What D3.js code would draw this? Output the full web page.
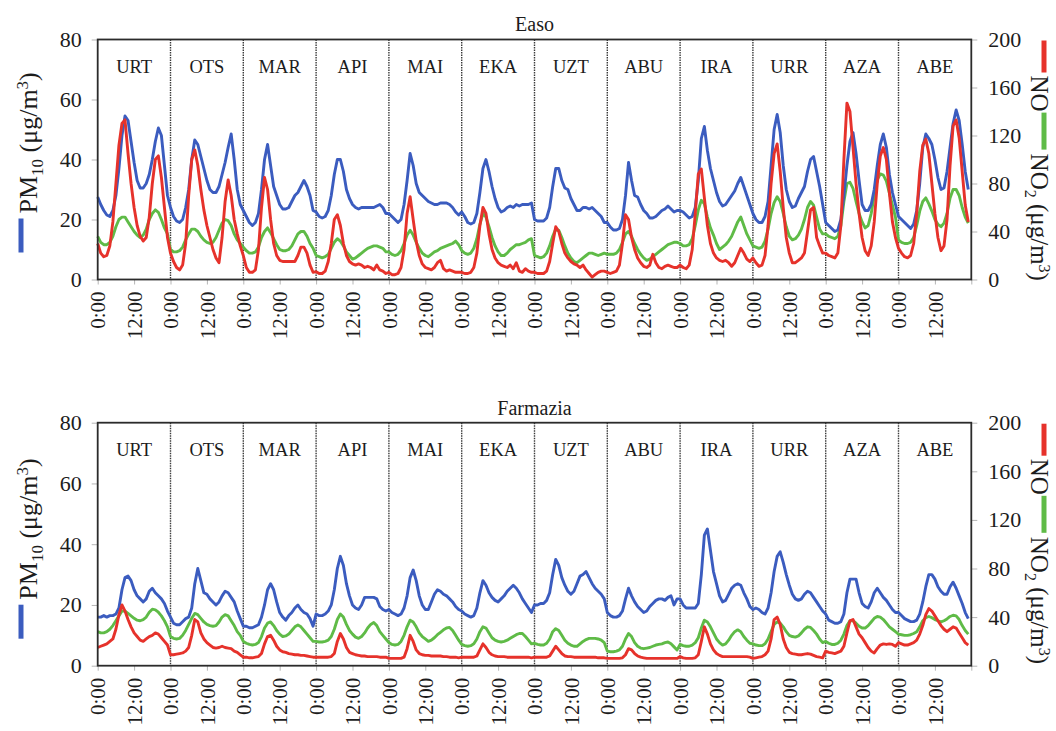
<!DOCTYPE html>
<html>
<head>
<meta charset="utf-8">
<script src="https://cdn.jsdelivr.net/npm/d3@7"></script>
<style>
  body { margin: 0; background: #fff; }
  svg { display: block; }
  text { font-family: "Liberation Serif", "Times New Roman", serif; fill: #1c1c1c; }
</style>
</head>
<body>
<svg id="chart" width="1056" height="731"></svg>
<script>
// Monthly mean daily cycles (hour 0..23) for each month, Jan..Dec (Basque month abbreviations)
const months = ["URT", "OTS", "MAR", "API", "MAI", "EKA", "UZT", "ABU", "IRA", "URR", "AZA", "ABE"];
const hourTickLabels = ["0:00", "12:00"];
const pmTicks = [0, 20, 40, 60, 80];
const noTicks = [0, 40, 80, 120, 160, 200];

// Easo station
const easoPM10 = [
  27.5, 25, 23, 21.5, 21, 23, 28, 37, 48, 54.5, 53, 46, 39, 33, 30.5, 30.5, 32, 35, 40, 46, 50.5, 48, 38, 28,
  24, 21, 19.5, 19, 20, 24, 30, 40, 46.5, 45, 41, 37, 33, 30, 29, 29, 31, 35, 39, 44, 48.5, 40, 30, 25,
  23, 21, 19, 18, 19, 22, 30, 40, 45, 38, 31, 28, 25, 23.5, 23.5, 24, 26, 28, 29, 31, 33, 31, 28, 23,
  22.5, 21, 20.5, 21, 23, 28, 35, 40, 40, 36, 30, 27, 25, 24, 23.5, 24, 24, 24, 24, 24, 24.5, 25, 24, 22,
  22, 21, 20, 19, 20, 25, 33, 42, 38, 32, 29, 28, 27, 26, 25.5, 25, 25, 25.5, 25.5, 25.5, 25, 24, 22.5, 21.5,
  22.5, 21, 19, 18.5, 19, 22, 29, 37, 40, 36, 31, 27, 24, 22.5, 23, 24, 24.5, 24, 25, 24.5, 25, 25, 25, 25.5,
  20, 19.5, 19.5, 19.5, 20.5, 24, 31, 37, 37, 33, 30.5, 30, 27, 25, 23, 23, 24, 24, 23.5, 24, 23, 22, 21, 19,
  19, 17.5, 16.5, 16.5, 17, 20, 28, 39, 33, 28, 27.5, 25, 23, 22, 20.5, 20.5, 21, 22, 23, 23.5, 24.5, 23.5, 22.5, 23,
  23, 22.5, 21.5, 20.5, 21, 24, 33, 47, 51, 43, 37, 33, 29, 26, 24.5, 25, 26.5, 28, 29.5, 32, 34, 31, 28, 25,
  22, 20, 19, 19, 21, 26, 38, 50, 55, 49, 38, 30, 26, 24, 24.5, 27, 29, 31, 36, 40, 41, 36, 31, 25,
  19, 18, 17, 16, 16.5, 20, 28, 38, 46, 49, 42, 33, 25, 23, 23, 25, 30, 38, 45, 48.5, 44, 35, 29, 25,
  21, 20, 19, 18, 17, 18.5, 23, 32, 44, 48.5, 47, 45, 40, 34, 30, 30.5, 36, 44, 52, 56.5, 53, 45, 36, 30
];
const easoNO = [
  30, 22, 19, 20, 28, 48, 80, 112, 130, 133, 105, 80, 60, 45, 36, 32, 35, 52, 80, 100, 103, 85, 60, 35,
  22, 15, 10, 8, 12, 30, 70, 100, 108, 95, 75, 58, 45, 35, 25, 18, 14, 35, 65, 83, 70, 50, 38, 28,
  20, 10, 6, 6, 8, 25, 60, 85, 75, 50, 30, 20, 16, 15, 15, 15, 15, 15, 20, 27, 27, 22, 12, 6,
  6.5, 5, 5, 7, 15, 30, 50, 54, 45, 30, 20, 15, 13, 12, 13, 12, 10, 11, 10, 8, 12, 8, 7, 5,
  6, 4, 4, 5, 10, 25, 55, 69, 50, 32, 20, 13, 10, 9, 8, 10, 14, 16, 9, 7, 8, 7, 6, 6,
  6, 5, 5, 6, 10, 22, 45, 60, 55, 38, 25, 18, 14, 12, 11, 10, 12, 9, 14, 7, 6, 9, 7, 6,
  6, 5, 5, 5, 7, 15, 30, 44, 40, 30, 22, 18, 15, 13, 12, 10, 12, 8, 5, 2, 4, 6, 7, 7,
  6, 5, 6, 7, 12, 30, 54, 50, 35, 25, 18, 14, 11, 10, 12, 21, 14, 10, 9, 11, 12, 11, 10, 10,
  12, 10, 9, 12, 25, 55, 88, 92, 68, 45, 30, 22, 18, 16, 15, 16, 14, 11, 14, 20, 26, 22, 17, 15,
  18, 14, 11, 12, 20, 45, 80, 105, 113, 90, 60, 35, 22, 14, 14, 16, 18, 22, 40, 58, 60, 35, 28, 22,
  22, 20, 19, 18, 22, 45, 100, 147, 140, 110, 80, 55, 35, 24, 20, 28, 48, 80, 103, 110, 100, 72, 48, 35,
  26, 22, 19, 18, 20, 30, 55, 90, 112, 117, 105, 80, 55, 35, 24, 28, 50, 95, 128, 133, 118, 90, 62, 48
];
const easoNO2 = [
  36, 31, 29, 29, 31, 36, 44, 50, 52, 52, 48, 44, 40, 37, 35, 37, 42, 50, 55, 58, 56, 50, 43, 38,
  25, 23, 23, 24, 27, 33, 38, 42, 42, 40, 36, 33, 31, 30, 31, 35, 41, 47, 50, 49, 45, 38, 33, 30,
  27, 24, 22, 22, 23, 27, 35, 40, 43, 39, 34, 29, 25, 24, 24, 25, 28, 33, 38, 40, 40, 36, 30, 26,
  20, 19, 18, 19, 21, 26, 31, 34, 32, 28, 23, 20, 17, 18, 20, 22, 24, 26, 27, 28, 28, 27, 26, 23,
  23, 21, 20, 21, 24, 30, 37, 41, 37, 31, 26, 22, 20, 19, 21, 23, 24, 26, 27, 28, 29, 30, 32, 29,
  24, 22, 21, 22, 26, 34, 46, 55, 52, 44, 35, 28, 23, 20, 20, 22, 25, 27, 29, 29, 30, 31, 33, 34,
  20, 19, 18, 19, 22, 28, 36, 42, 41, 35, 28, 22, 18, 15, 14, 16, 18, 20, 22, 22, 21, 20, 21, 22,
  21, 21, 21, 22, 25, 31, 38, 40, 36, 30, 25, 21, 18, 16, 17, 19, 21, 23, 25, 27, 29, 30, 31, 31,
  30, 28, 28, 29, 34, 45, 58, 66, 63, 52, 43, 37, 30, 25, 27, 29, 32, 36, 42, 48, 52, 45, 38, 33,
  28, 27, 26, 27, 32, 42, 55, 64, 69, 65, 55, 44, 36, 33, 34, 37, 42, 50, 60, 65, 62, 52, 42, 38,
  38, 36, 35, 34, 36, 45, 65, 80, 81, 76, 65, 55, 48, 43, 45, 55, 70, 83, 88, 87, 82, 72, 62, 52,
  33, 31, 30, 30, 31, 35, 45, 57, 65, 68, 63, 57, 50, 46, 44, 47, 55, 68, 75, 75, 70, 60, 52, 47
];

// Farmazia station
const farmaziaPM10 = [
  16, 16, 16.5, 16, 16.5, 16.5, 17, 19, 25, 29, 29.5, 28, 25, 23, 22, 21, 22, 24.5, 25.5, 24, 23, 22, 20.5, 18,
  16, 14, 13.5, 13.5, 14.5, 15.5, 16, 19, 27, 32, 28, 24, 23.5, 22, 21, 20, 21, 23, 24.5, 24, 22.5, 21, 18, 15.5,
  13, 13, 12.5, 12.5, 13, 13.5, 16, 20, 25, 27, 25, 21, 17.5, 16, 15, 16.5, 17.5, 19, 20, 18.5, 17.5, 17, 15.5, 13,
  17, 16.5, 16.5, 17, 18, 20, 25, 32, 36, 33, 27, 23, 20, 19, 18.5, 20, 22.5, 22.5, 22.5, 22.5, 22, 19.5, 18.5, 18,
  18.5, 17.5, 17, 16.5, 17, 19, 23, 29, 31.5, 28, 23, 20, 18.5, 18.5, 21, 23.5, 25, 24.5, 23.5, 23, 22, 21, 19.5, 18.5,
  18, 17, 16.5, 16, 16.5, 19, 24, 28, 26.5, 24, 22.5, 21.5, 21, 22, 23, 24.5, 25.5, 26.5, 25.5, 24, 22, 20.5, 19, 17.5,
  20, 20, 20.5, 20.5, 21.5, 24, 30, 35, 33, 29, 26.5, 24.5, 23.5, 24.5, 27, 29.5, 30, 31, 29, 27, 25.5, 24.5, 23.5, 22,
  17.5, 16.5, 16, 16, 16.5, 18, 22, 25.5, 23, 21, 19.5, 18.5, 17.5, 18, 19.5, 20.5, 21.5, 22, 22, 21.5, 22.5, 23, 20, 22,
  22, 20, 19, 19, 19, 19, 20.5, 30, 43, 45, 38, 31, 27, 23, 21, 21.5, 23.5, 25.5, 26.5, 27, 26.5, 24, 22, 19.5,
  18.5, 19, 18.5, 17.5, 17, 19, 24, 31, 36, 37.5, 34, 30, 26.5, 23.5, 22, 21.5, 22, 23.5, 24.5, 24, 22.5, 21, 19.5, 18,
  17, 15, 14.5, 14, 14, 14.5, 17, 24, 28.5, 28.5, 28.5, 24, 20.5, 19.5, 19, 21, 24, 25.5, 24, 22.5, 21.5, 20, 18.5, 17.5,
  17.5, 16.5, 15.5, 15, 14.5, 14.5, 15, 17, 21, 26, 30, 30, 28.5, 26, 24.5, 23.5, 23.5, 26, 27.5, 25.5, 23, 20.5, 17.5, 15.5
];
const farmaziaNO = [
  15, 16, 17, 18, 20, 22, 30, 42, 50, 45, 38, 32, 27, 24, 21, 20, 22, 24, 25, 27, 26, 23, 20, 17,
  9, 9, 9.5, 10, 10.5, 12, 15, 25, 38, 36, 27, 22, 19, 17, 15, 14.5, 15, 16, 15, 14.5, 14, 12, 11, 9,
  7, 7, 6.5, 6.5, 7, 7.5, 10, 18, 24, 25, 21, 16, 13, 11.5, 11, 10, 9.5, 9, 9, 8.5, 8.5, 8, 7.5, 7,
  7, 7, 7, 7, 7, 7.5, 10, 20, 26.5, 22, 15, 11, 10, 9, 8.5, 8, 8, 7.5, 7.5, 7.5, 7.5, 7, 7, 7,
  6, 6, 6, 6, 6, 7, 14, 25, 20, 13, 10, 9, 8.5, 8.5, 8, 8, 8, 8, 7.5, 7.5, 7, 7, 7, 6.5,
  7, 7, 7, 7, 7, 8, 13, 18, 15, 11, 9, 8, 7.5, 7.5, 7.5, 7, 7, 7, 7, 7, 7, 7, 7, 6.5,
  7, 7, 7, 7, 7, 8, 12, 16, 13, 10, 8, 7.5, 7.5, 7, 7, 7, 7, 7, 7, 7, 7, 6.5, 6.5, 6.5,
  6, 6, 6, 6, 6, 6.5, 9, 14, 13, 10, 8, 7, 6.5, 6, 6, 6, 6, 6, 6, 6, 6, 6, 6, 6,
  7.5, 6.5, 6, 6, 6, 6.5, 9, 20, 32, 26, 18, 13, 10, 8.5, 7.5, 7.5, 7.5, 7.5, 7.5, 7.5, 7.5, 7.5, 7.5, 7,
  6, 6.5, 7, 7.5, 9, 12, 22, 38, 40, 34, 22, 15, 11, 10, 9.5, 9, 9, 9.5, 10, 9.5, 8.5, 7.5, 7, 6.5,
  12, 11, 10.5, 10, 11, 12, 16, 27, 37, 38, 32, 26, 23, 19, 15, 12, 10.5, 14, 17, 18, 17.5, 18, 17.5, 16,
  19, 18, 17, 17, 18, 19, 21, 26, 33, 42, 47, 45, 41, 37, 33, 30, 28, 30, 32, 31, 27, 23, 19, 17
];
const farmaziaNO2 = [
  28, 27, 27, 28, 30, 33, 37, 41, 45, 45, 43, 41, 39, 37.5, 37, 38, 40, 44, 46.5, 46, 44, 41, 37, 32,
  24, 22.5, 22, 22.5, 25, 29, 34, 39, 43, 42, 39, 36, 34, 33, 32.5, 33, 36, 40, 42, 41, 37, 33, 28, 25,
  20, 18.5, 17.5, 17, 17.5, 19, 24, 31, 35, 36, 33, 29, 26, 24, 24.5, 26, 29, 32, 33.5, 32, 29, 26, 23, 20,
  20, 19.5, 19.5, 20, 21, 24, 30, 38, 42.5, 40, 34, 29, 26, 23.5, 22.5, 24, 27, 31, 34, 35.5, 33, 28, 25, 22,
  19, 17.5, 17, 17.5, 20, 25, 32, 37.5, 36, 32, 27, 24, 22, 20, 21, 23, 25.5, 27.5, 29.5, 31, 31.5, 29, 25, 21,
  17.5, 16.5, 16, 16.5, 18, 22, 28, 32, 31, 27, 23, 21, 20, 19.5, 20, 21, 22.5, 24, 25.5, 26.5, 26.5, 24, 21, 18,
  18.5, 17.5, 17, 17, 18.5, 22, 28, 30.5, 29, 25, 21, 18.5, 17, 16, 16, 18, 20, 21.5, 22.5, 22.5, 22.5, 22, 21, 19,
  12, 11.5, 11.5, 12, 13, 16, 22, 26.5, 24, 19, 16, 14.5, 14, 14.5, 15, 16, 17, 17.5, 18, 19, 19.5, 18, 15.5, 13,
  17.5, 16.5, 16, 16, 17, 19, 23, 31, 37.5, 36, 32, 27, 22, 19, 17, 18, 21, 25, 28, 29.5, 28, 24, 21, 18.5,
  18, 17, 16.5, 16.5, 18, 22, 28, 34, 36, 35, 32, 28, 25, 24, 23.5, 24.5, 27, 30, 32, 31.5, 29, 26, 22, 19,
  20, 18.5, 17.5, 17.5, 18.5, 21, 26, 33, 37, 37, 35, 32.5, 31, 31, 33, 36, 39, 40.5, 40, 38, 35, 32, 30, 28,
  26, 25.5, 25, 25, 25.5, 26.5, 28, 32, 37, 39.5, 40.5, 39.5, 38, 37, 36, 37, 38.5, 40.5, 41.5, 41, 38, 33, 29, 26
];

const COLORS = { pm: "#3b5cbf", no: "#e6322b", no2: "#5fbb47" };

const panels = [
  { title: "Easo", top: 39.5, bottom: 279.5, titleY: 30.5, pm: easoPM10, no: easoNO, no2: easoNO2 },
  { title: "Farmazia", top: 422.7, bottom: 665.7, titleY: 414.5, pm: farmaziaPM10, no: farmaziaNO, no2: farmaziaNO2 }
];

const svg = d3.select("#chart");
svg.append("rect").attr("width", 1056).attr("height", 731).attr("fill", "#fff");

const x = d3.scaleLinear().domain([0, 288]).range([97.7, 971.3]);
const plotLeft = x(0), plotRight = x(288);

panels.forEach(p => {
  const g = svg.append("g");
  const yL = d3.scaleLinear().domain([0, 80]).range([p.bottom, p.top]);
  const yR = d3.scaleLinear().domain([0, 200]).range([p.bottom, p.top]);

  // title
  g.append("text").attr("x", (plotLeft + plotRight) / 2).attr("y", p.titleY)
    .attr("text-anchor", "middle").attr("font-size", 20).text(p.title);

  // left axis (PM10)
  const axL = g.append("g").attr("transform", `translate(${plotLeft},0)`)
    .call(d3.axisLeft(yL).tickValues(pmTicks).tickSize(6).tickPadding(10));
  axL.select(".domain").remove();
  axL.selectAll(".tick line").attr("stroke", "#b5b5b5");
  axL.selectAll(".tick text").attr("font-size", 22).attr("font-family", "Liberation Serif").attr("fill", "#1c1c1c");

  // right axis (NO, NO2)
  const axR = g.append("g").attr("transform", `translate(${plotRight},0)`)
    .call(d3.axisRight(yR).tickValues(noTicks).tickSize(6).tickPadding(11));
  axR.select(".domain").remove();
  axR.selectAll(".tick line").attr("stroke", "#b5b5b5");
  axR.selectAll(".tick text").attr("font-size", 22).attr("font-family", "Liberation Serif").attr("fill", "#1c1c1c");

  // bottom axis: hour ticks every 12 h
  const axB = g.append("g").attr("transform", `translate(0,${p.bottom})`)
    .call(d3.axisBottom(x).tickValues(d3.range(0, 289, 12)).tickSize(5)
      .tickFormat(d => d < 288 ? hourTickLabels[(d / 12) % 2] : ""));
  axB.select(".domain").remove();
  axB.selectAll(".tick line").attr("stroke", "#b5b5b5");
  axB.selectAll(".tick text")
    .attr("font-size", 21).attr("font-family", "Liberation Serif").attr("fill", "#1c1c1c")
    .attr("text-anchor", "end")
    .attr("transform", "rotate(-90)")
    .attr("x", -12).attr("y", 0).attr("dy", "0.34em");

  // month separators
  g.selectAll(".sep").data(d3.range(1, 12)).join("line")
    .attr("x1", m => x(m * 24)).attr("x2", m => x(m * 24))
    .attr("y1", p.top).attr("y2", p.bottom)
    .attr("stroke", "#3a3a3a").attr("stroke-width", 1.4).attr("stroke-dasharray", "1.5,1");

  // month names
  g.selectAll(".mname").data(months).join("text")
    .attr("x", (d, i) => x(i * 24 + 12)).attr("y", p.top + 33)
    .attr("text-anchor", "middle").attr("font-size", 18.5).text(d => d);

  // series
  const lineL = d3.line().x((d, i) => x(i)).y(d => yL(d));
  const lineR = d3.line().x((d, i) => x(i)).y(d => yR(d));
  g.append("path").datum(p.no2).attr("d", lineR).attr("fill", "none")
    .attr("stroke", COLORS.no2).attr("stroke-width", 2.9).attr("stroke-linejoin", "round");
  g.append("path").datum(p.pm).attr("d", lineL).attr("fill", "none")
    .attr("stroke", COLORS.pm).attr("stroke-width", 2.9).attr("stroke-linejoin", "round");
  g.append("path").datum(p.no).attr("d", lineR).attr("fill", "none")
    .attr("stroke", COLORS.no).attr("stroke-width", 2.9).attr("stroke-linejoin", "round");

  // frame
  g.append("rect").attr("x", plotLeft).attr("y", p.top)
    .attr("width", plotRight - plotLeft).attr("height", p.bottom - p.top)
    .attr("fill", "none").attr("stroke", "#2b2b2b").attr("stroke-width", 1.8);

  // left axis title with line key
  const lbX = 37;
  const keyBottom = p.bottom - 27;
  g.append("line").attr("x1", 21).attr("x2", 21).attr("y1", keyBottom).attr("y2", keyBottom - 34)
    .attr("stroke", COLORS.pm).attr("stroke-width", 5);
  const tl = g.append("text").attr("transform", `translate(${lbX},${keyBottom - 39}) rotate(-90)`)
    .attr("font-size", 26);
  tl.append("tspan").text("PM");
  tl.append("tspan").attr("font-size", 17).attr("dy", 6).text("10");
  tl.append("tspan").attr("dy", -6).text(" (μg/m");
  tl.append("tspan").attr("font-size", 17).attr("dy", -9).text("3");
  tl.append("tspan").attr("dy", 9).text(")");

  // right axis title with line keys
  const rbX = 1031, keyX = 1044;
  let yy = p.top + 1;
  g.append("line").attr("x1", keyX).attr("x2", keyX).attr("y1", yy).attr("y2", yy + 32)
    .attr("stroke", COLORS.no).attr("stroke-width", 5);
  yy += 35;
  const tNO = g.append("text").attr("transform", `translate(${rbX},${yy}) rotate(90)`)
    .attr("font-size", 25).text("NO");
  yy += tNO.node().getComputedTextLength() + 1;
  g.append("line").attr("x1", keyX).attr("x2", keyX).attr("y1", yy).attr("y2", yy + 37)
    .attr("stroke", COLORS.no2).attr("stroke-width", 5);
  yy += 41;
  const tNO2 = g.append("text").attr("transform", `translate(${rbX},${yy}) rotate(90)`)
    .attr("font-size", 25);
  tNO2.append("tspan").text("NO");
  tNO2.append("tspan").attr("font-size", 16).attr("dy", 6).text("2");
  tNO2.append("tspan").attr("dy", -6).text(" (μg/m");
  tNO2.append("tspan").attr("font-size", 16).attr("dy", -8).text("3");
  tNO2.append("tspan").attr("dy", 8).text(")");
});
</script>
</body>
</html>
